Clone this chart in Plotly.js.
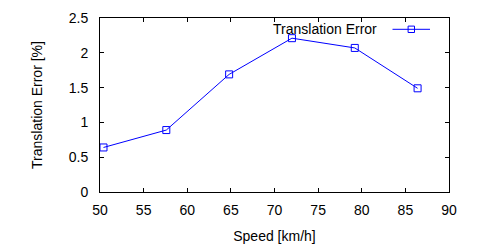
<!DOCTYPE html>
<html>
<head>
<meta charset="utf-8">
<script src="https://cdn.plot.ly/plotly-3.0.1.min.js"></script>
<style>html,body{margin:0;padding:0;background:#fff;}#chart{width:500px;height:250px;}</style>
</head>
<body>
<div id="chart"></div>
<script>
const speedKmh = [50.4, 57.6, 64.8, 72.0, 79.2, 86.4];
const translationError = [0.64, 0.89, 1.69, 2.21, 2.07, 1.49];
const seriesName = "Translation Error";
const xTicks = [50, 55, 60, 65, 70, 75, 80, 85, 90];
const yTicks = [0, 0.5, 1, 1.5, 2, 2.5];

const font = {family: "Liberation Sans, Arial, sans-serif", size: 14, color: "#000"};
const blue = "#0000ff";

const trace = {
  x: speedKmh, y: translationError, name: seriesName,
  type: "scatter", mode: "lines+markers",
  line: {color: blue, width: 1},
  marker: {symbol: "square-open", size: 7, color: blue, line: {width: 1, color: blue}},
  showlegend: false
};

const lx0 = (392.5 - 100) / 349, lx1 = (430 - 100) / 349, lxm = (411.3 - 100) / 349;
const ly = (192 - 29.3) / 174;
const sq = 3.2;
const layout = {
  width: 500, height: 250,
  margin: {l: 100, r: 51, t: 18, b: 58},
  paper_bgcolor: "#fff", plot_bgcolor: "#fff",
  font: font,
  xaxis: {
    range: [50, 90], tickvals: xTicks, ticktext: xTicks.map(String),
    ticks: "inside", ticklen: 4, tickwidth: 1, tickcolor: "#000",
    showline: true, linecolor: "#000", linewidth: 1, mirror: "ticks",
    showgrid: false, zeroline: false, ticklabelstandoff: 5,
    title: {text: "Speed [km/h]", font: font, standoff: 14}
  },
  yaxis: {
    range: [0, 2.5], tickvals: yTicks, ticktext: yTicks.map(String),
    ticks: "inside", ticklen: 4, tickwidth: 1, tickcolor: "#000",
    showline: true, linecolor: "#000", linewidth: 1, mirror: "ticks",
    showgrid: false, zeroline: false, ticklabelstandoff: 8,
    title: {text: "Translation Error [%]", font: font, standoff: 22}
  },
  annotations: [{
    xref: "paper", yref: "paper", x: (379 - 100) / 349, y: ly,
    xanchor: "right", yanchor: "middle", text: seriesName, showarrow: false, font: font
  }],
  shapes: [
    {type: "line", xref: "paper", yref: "paper", x0: lx0, x1: lx1, y0: ly, y1: ly, line: {color: blue, width: 1}},
    {type: "rect", xref: "paper", yref: "paper", x0: lxm - sq / 349, x1: lxm + sq / 349, y0: ly - sq / 174, y1: ly + sq / 174, line: {color: blue, width: 1}, fillcolor: "rgba(0,0,0,0)"}
  ]
};
Plotly.newPlot("chart", [trace], layout, {staticPlot: true, displayModeBar: false});
</script>
</body>
</html>
